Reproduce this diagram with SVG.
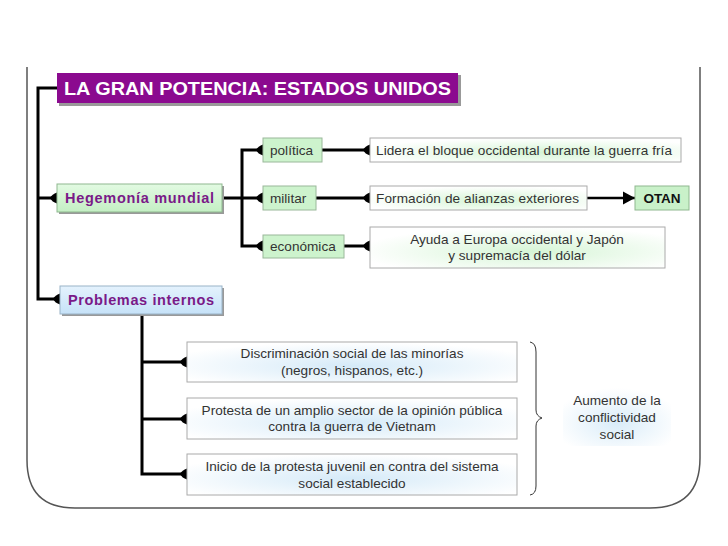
<svg xmlns="http://www.w3.org/2000/svg" width="728" height="546" viewBox="0 0 728 546">
<defs>
<style>
.t{font-family:"Liberation Sans",Arial,sans-serif;font-size:13.6px;fill:#333;}
.c{text-anchor:middle;}
.h{font-family:"Liberation Sans",Arial,sans-serif;font-size:14.5px;font-weight:bold;fill:#7a1a88;}
.ln{fill:none;stroke:#000;stroke-width:3;}
.sg{fill:#cdf3cd;stroke:#9ab89a;stroke-width:1;}
.bx{stroke:#aaa;stroke-width:1;}
.sh{fill:#999;}
</style>
<radialGradient id="gg" cx="0.55" cy="0.6" r="0.6">
<stop offset="0" stop-color="#d6f5d6"/><stop offset="1" stop-color="#ffffff"/>
</radialGradient>
<radialGradient id="gb" cx="0.5" cy="0.6" r="0.6">
<stop offset="0" stop-color="#d5eaf8"/><stop offset="1" stop-color="#ffffff"/>
</radialGradient>
<linearGradient id="hg" x1="0" y1="0" x2="0" y2="1">
<stop offset="0" stop-color="#e2fae2"/><stop offset="1" stop-color="#c4efc4"/>
</linearGradient>
<linearGradient id="hb" x1="0" y1="0" x2="0" y2="1">
<stop offset="0" stop-color="#e4f2fd"/><stop offset="1" stop-color="#c6e2f8"/>
</linearGradient>
<marker id="tip" viewBox="-8 -6 9 12" markerWidth="9" markerHeight="12" refX="0" refY="0" orient="auto" markerUnits="userSpaceOnUse">
<path d="M0,-5.5 Q-5,-4 -7,0 Q-5,4 0,5.5 Z" fill="#000"/>
</marker>
<marker id="arr" viewBox="0 -7 12 14" markerWidth="12" markerHeight="14" refX="12" refY="0" orient="auto" markerUnits="userSpaceOnUse">
<path d="M0,-6.5 L12,0 L0,6.5 Z" fill="#000"/>
</marker>
</defs>
<rect width="728" height="546" fill="#fff"/>
<path d="M27,67 L27,460 Q27,508 75,508 L650,508 Q700,508 700,458 L700,67" fill="none" stroke="#555" stroke-width="1.5"/>

<g id="connectors">
<path class="ln" d="M57,88 L38,88 L38,299 L60,299" marker-end="url(#tip)"/>
<path class="ln" d="M38,198 L57,198" marker-end="url(#tip)"/>
<path class="ln" d="M222,198 L263,198" marker-end="url(#tip)"/>
<path class="ln" d="M242,198 L242,150 L263,150" marker-end="url(#tip)"/>
<path class="ln" d="M242,198 L242,246 L263,246" marker-end="url(#tip)"/>
<path class="ln" d="M322,150 L370,150" marker-end="url(#tip)"/>
<path class="ln" d="M316,198 L370,198" marker-end="url(#tip)"/>
<path class="ln" d="M344,246 L370,246" marker-end="url(#tip)"/>
<path d="M587,198 L635,198" fill="none" stroke="#000" stroke-width="2.5" marker-end="url(#arr)"/>
<path class="ln" d="M142,314 L142,474 L187,474" marker-end="url(#tip)"/>
<path class="ln" d="M142,362 L187,362" marker-end="url(#tip)"/>
<path class="ln" d="M142,419 L187,419" marker-end="url(#tip)"/>
<path d="M530,342 Q536,343 536,352 L536,410 Q536,416 542,418 Q536,420 536,426 L536,486 Q536,494 530,495" fill="none" stroke="#333" stroke-width="1"/>
</g>

<g id="title">
<rect x="59" y="75" width="402" height="31" class="sh"/>
<rect x="57" y="73" width="401" height="30" fill="#8b0a8f"/>
<text x="64" y="95" font-family="'Liberation Sans',Arial,sans-serif" font-size="18" font-weight="bold" fill="#fff" textLength="387" lengthAdjust="spacingAndGlyphs">LA GRAN POTENCIA: ESTADOS UNIDOS</text>
</g>

<g id="hegemonia">
<rect x="59" y="186" width="165" height="28" class="sh"/>
<rect x="57" y="184" width="165" height="28" fill="url(#hg)" stroke="#8fb88f"/>
<text x="65" y="203" class="h" textLength="149" lengthAdjust="spacing">Hegemonía mundial</text>
</g>

<g id="problemas">
<rect x="62" y="288" width="162" height="28" class="sh"/>
<rect x="60" y="286" width="162" height="28" fill="url(#hb)" stroke="#9ab4c8"/>
<text x="68" y="305" class="h" textLength="146" lengthAdjust="spacing">Problemas internos</text>
</g>

<g id="politica">
<rect x="263" y="138" width="59" height="24" class="sg"/>
<text x="270" y="155" class="t">política</text>
</g>
<g id="militar">
<rect x="263" y="186" width="53" height="24" class="sg"/>
<text x="270" y="203" class="t">militar</text>
</g>
<g id="economica">
<rect x="263" y="235" width="81" height="23" class="sg"/>
<text x="270" y="251" class="t">económica</text>
</g>

<g id="lidera">
<rect x="370" y="138" width="311" height="24" fill="url(#gg)" class="bx"/>
<text x="376" y="155" class="t" textLength="296" lengthAdjust="spacing">Lidera el bloque occidental durante la guerra fría</text>
</g>
<g id="formacion">
<rect x="370" y="186" width="217" height="24" fill="url(#gg)" class="bx"/>
<text x="376" y="203" class="t" textLength="203" lengthAdjust="spacing">Formación de alianzas exteriores</text>
</g>
<g id="otan">
<rect x="635" y="186" width="54" height="24" fill="#c9f1c9" stroke="#8fb88f"/>
<text x="662" y="203" class="c" font-family="'Liberation Sans',Arial,sans-serif" font-size="13.5" font-weight="bold" fill="#111">OTAN</text>
</g>
<g id="ayuda">
<rect x="370" y="227" width="295" height="41" fill="url(#gg)" class="bx"/>
<text x="517" y="244" class="t c">Ayuda a Europa occidental y Japón</text>
<text x="517" y="260" class="t c">y supremacía del dólar</text>
</g>

<g id="discriminacion">
<rect x="187" y="342" width="330" height="40" fill="url(#gb)" class="bx"/>
<text x="352" y="358" class="t c">Discriminación social de las minorías</text>
<text x="352" y="375" class="t c">(negros, hispanos, etc.)</text>
</g>
<g id="protesta">
<rect x="187" y="398" width="330" height="41" fill="url(#gb)" class="bx"/>
<text x="352" y="415" class="t c">Protesta de un amplio sector de la opinión pública</text>
<text x="352" y="431" class="t c">contra la guerra de Vietnam</text>
</g>
<g id="inicio">
<rect x="187" y="454" width="330" height="41" fill="url(#gb)" class="bx"/>
<text x="352" y="471" class="t c">Inicio de la protesta juvenil en contra del sistema</text>
<text x="352" y="488" class="t c">social establecido</text>
</g>

<g id="aumento">
<rect x="563" y="388" width="108" height="58" fill="url(#gb)" opacity="0.9"/>
<text x="617" y="405" class="t c">Aumento de la</text>
<text x="617" y="422" class="t c">conflictividad</text>
<text x="617" y="439" class="t c">social</text>
</g>
</svg>
